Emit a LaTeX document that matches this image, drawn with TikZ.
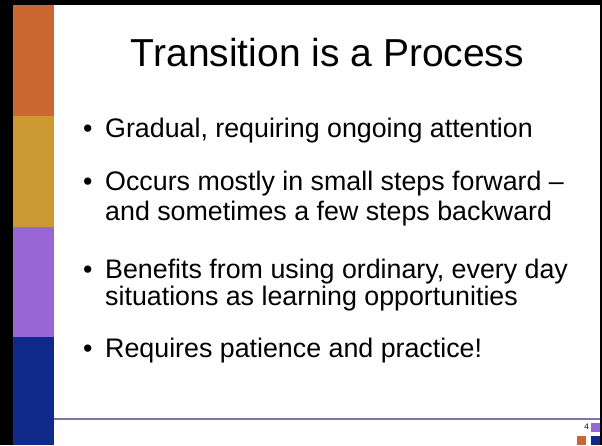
\documentclass[tikz,border=0pt]{standalone}
\usepackage{fontspec}
\setmainfont{Liberation Sans}
\definecolor{barorange}{HTML}{CC6633}
\definecolor{bargold}{HTML}{CC9933}
\definecolor{barpurple}{HTML}{9966D6}
\definecolor{barblue}{HTML}{102A8C}
\definecolor{rulecol}{HTML}{7878A8}
\tikzset{
  bodytext/.style={anchor=base west, inner sep=0pt, font=\fontsize{26.8}{29}\selectfont},
  bullettext/.style={anchor=base west, inner sep=0pt, font=\fontsize{26.8}{29}\selectfont},
}
\begin{document}
\begin{tikzpicture}[x=1pt,y=-1pt]
\useasboundingbox (0,0) rectangle (602,445);
\fill[white] (0,0) rectangle (602,445);
% black frame
\fill[black] (0,0) rectangle (13,445);
\fill[black] (0,0) rectangle (602,5);
\fill[black] (600,0) rectangle (602,445);
% colour bar
\fill[barorange] (13,5) rectangle (54,116);
\fill[bargold] (13,116) rectangle (54,227);
\fill[barpurple] (13,227) rectangle (54,337);
\fill[barblue] (13,337) rectangle (54,445);
% bottom rule
\draw[rulecol, line width=1.5pt] (54,419) -- (600,419);
% corner squares
\fill[barpurple] (591,423) rectangle (600,432);
\fill[barorange] (577,436) rectangle (586,445);
\fill[barblue] (591,436) rectangle (600,445);
\node[anchor=base east, inner sep=0pt, font=\fontsize{8}{9}\selectfont] (pnum) at (589,429) {4};
% title
\node[anchor=base, inner sep=0pt, font=\fontsize{39}{43}\selectfont] (title) at (327.5,66) {Transition is a Process};
% bullets
\node[bullettext] (b1) at (83,137) {\textbullet};
\node[bodytext] (t1) at (105,137) {Gradual, requiring ongoing attention};
\node[bullettext] (b2) at (83,190) {\textbullet};
\node[bodytext] (t2a) at (105,190) {Occurs mostly in small steps forward –};
\node[bodytext] (t2b) at (105,220) {and sometimes a few steps backward};
\node[bullettext] (b3) at (83,278) {\textbullet};
\node[bodytext] (t3a) at (105,278) {Benefits from using ordinary, every day};
\node[bodytext] (t3b) at (105,305) {situations as learning opportunities};
\node[bullettext] (b4) at (83,357) {\textbullet};
\node[bodytext] (t4) at (105,357) {Requires patience and practice!};
\end{tikzpicture}
\end{document}
